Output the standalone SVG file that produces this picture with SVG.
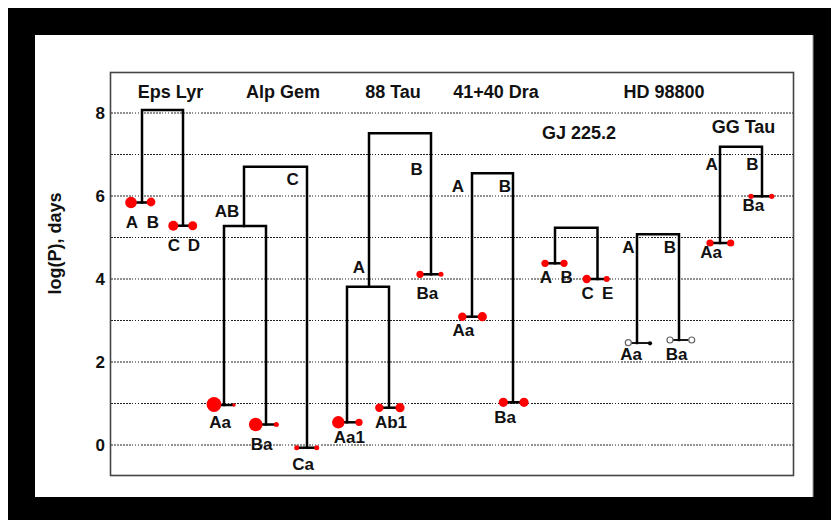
<svg xmlns="http://www.w3.org/2000/svg" width="831" height="520" viewBox="0 0 831 520">
<style>
text{font-family:"Liberation Sans",Arial,sans-serif;font-weight:bold;fill:#111;text-anchor:middle}
.t{font-size:18px}
.l{font-size:17px}
.tick{font-size:17px;text-anchor:end}
.grid{stroke:#222;stroke-width:1;fill:none;stroke-dasharray:2 1 2 1 2 1 2 1 2 1 2 1 2 1 1 2 1 2 1 2}
.br{stroke:#000;stroke-width:2.5;fill:none;stroke-linecap:square}
.bar{stroke:#000;stroke-width:2.5}
.thin{stroke:#000;stroke-width:1.8}
.s{fill:#ff0000}
.h{fill:#fff;stroke:#666;stroke-width:1.2}
</style>
<rect x="0" y="0" width="831" height="520" fill="#fff"/>
<rect x="8" y="8" width="823" height="512" fill="#000"/>
<rect x="35" y="35" width="778" height="462" fill="#fff"/>
<line x1="813" y1="35" x2="813" y2="497" stroke="#999" stroke-width="1"/>
<g id="plot-frame">
<rect x="110.5" y="72.5" width="683" height="403" fill="none" stroke="#444" stroke-width="1.6"/>
</g>
<g id="grid">
<line class="grid" x1="111" y1="445" x2="793" y2="445"/>
<line class="grid" x1="111" y1="403.5" x2="793" y2="403.5"/>
<line class="grid" x1="111" y1="362" x2="793" y2="362"/>
<line class="grid" x1="111" y1="320.5" x2="793" y2="320.5"/>
<line class="grid" x1="111" y1="279" x2="793" y2="279"/>
<line class="grid" x1="111" y1="237.5" x2="793" y2="237.5"/>
<line class="grid" x1="111" y1="196" x2="793" y2="196"/>
<line class="grid" x1="111" y1="154.5" x2="793" y2="154.5"/>
<line class="grid" x1="111" y1="113" x2="793" y2="113"/>
</g>
<g id="axis">
<text class="tick" x="105" y="119">8</text>
<text class="tick" x="105" y="202">6</text>
<text class="tick" x="105" y="285">4</text>
<text class="tick" x="105" y="368">2</text>
<text class="tick" x="105" y="451">0</text>
<text class="t" transform="translate(61,243.5) rotate(-90)">log(P), days</text>
</g>
<g id="titles">
<text class="t" x="170.5" y="98">Eps Lyr</text>
<text class="t" x="283" y="98">Alp Gem</text>
<text class="t" x="393" y="98">88 Tau</text>
<text class="t" x="496" y="98">41+40 Dra</text>
<text class="t" x="664" y="98">HD 98800</text>
<text class="t" x="579" y="139">GJ 225.2</text>
<text class="t" x="743.5" y="133">GG Tau</text>
</g>
<g id="connectors">
<path class="br" d="M142,202.5 V110 H183 V225.7"/>
<path class="br" d="M244,226 V166.7 H307 V447.7"/>
<path class="br" d="M224,405 V226 H266 V424.5"/>
<path class="br" d="M369,286.7 V133.3 H431 V274.3"/>
<path class="br" d="M347,422.3 V286.7 H389 V407.7"/>
<path class="br" d="M472,316.7 V173.3 H513 V402.3"/>
<path class="br" d="M555,263.3 V227.7 H597.5 V279"/>
<path class="br" d="M637,343 V234.3 H679 V340"/>
<path class="br" d="M720,243 V146.7 H762 V196.3"/>
</g>
<g id="epslyr-AB">
<line class="bar" x1="131" y1="202.5" x2="151" y2="202.5"/>
<circle class="s" cx="131" cy="202.5" r="5.8"/>
<circle class="s" cx="151" cy="202" r="4.4"/>
<text class="l" x="132" y="227.5">A</text>
<text class="l" x="153" y="227.5">B</text>
</g>
<g id="epslyr-CD">
<line class="bar" x1="173.3" y1="225.7" x2="192.7" y2="225.7"/>
<circle class="s" cx="173.3" cy="225.7" r="5"/>
<circle class="s" cx="192.7" cy="225.7" r="4.5"/>
<text class="l" x="174" y="251">C</text>
<text class="l" x="194" y="251">D</text>
</g>
<g id="alpgem-labels">
<text class="l" x="227" y="216.7">AB</text>
<text class="l" x="292.7" y="185">C</text>
</g>
<g id="alpgem-Aa">
<line class="bar" x1="214" y1="405" x2="234" y2="405"/>
<circle class="s" cx="214" cy="404.5" r="7.4"/>
<circle class="s" cx="234" cy="405" r="1.7"/>
<text class="l" x="220" y="428">Aa</text>
</g>
<g id="alpgem-Ba">
<line class="bar" x1="255.7" y1="424.5" x2="276.3" y2="424.5"/>
<circle class="s" cx="255.7" cy="424.5" r="6.8"/>
<circle class="s" cx="276.3" cy="424.5" r="2.5"/>
<text class="l" x="261.7" y="450">Ba</text>
</g>
<g id="alpgem-Ca">
<line class="bar" x1="296.7" y1="447.7" x2="316.7" y2="447.7"/>
<circle class="s" cx="296.7" cy="447.7" r="2.5"/>
<circle class="s" cx="316.7" cy="447.7" r="2.5"/>
<text class="l" x="303" y="470">Ca</text>
</g>
<g id="tau88-labels">
<text class="l" x="416.7" y="175">B</text>
<text class="l" x="359" y="272.5">A</text>
</g>
<g id="tau88-Ba">
<line class="bar" x1="420" y1="274.3" x2="441" y2="274.3"/>
<circle class="s" cx="420" cy="274.3" r="3.6"/>
<circle class="s" cx="441" cy="274.3" r="2.5"/>
<text class="l" x="427.3" y="299">Ba</text>
</g>
<g id="tau88-Aa1">
<line class="bar" x1="338.3" y1="422.3" x2="359" y2="422.3"/>
<circle class="s" cx="338.3" cy="422.3" r="6.2"/>
<circle class="s" cx="359" cy="422.3" r="3.6"/>
<text class="l" x="349.3" y="443">Aa1</text>
</g>
<g id="tau88-Ab1">
<line class="bar" x1="379.3" y1="407.7" x2="400" y2="407.7"/>
<circle class="s" cx="379.3" cy="407.7" r="4.2"/>
<circle class="s" cx="400" cy="407.7" r="4.6"/>
<text class="l" x="391" y="428">Ab1</text>
</g>
<g id="dra-labels">
<text class="l" x="458" y="191.5">A</text>
<text class="l" x="505" y="191.5">B</text>
</g>
<g id="dra-Aa">
<line class="bar" x1="462.3" y1="316.7" x2="482.3" y2="316.7"/>
<circle class="s" cx="462.3" cy="316.7" r="4.2"/>
<circle class="s" cx="482.3" cy="316.7" r="4.6"/>
<text class="l" x="463.3" y="336">Aa</text>
</g>
<g id="dra-Ba">
<line class="bar" x1="503.3" y1="402.3" x2="524" y2="402.3"/>
<circle class="s" cx="503.3" cy="402.3" r="4.6"/>
<circle class="s" cx="524" cy="402.3" r="4.6"/>
<text class="l" x="505" y="423">Ba</text>
</g>
<g id="gj-AB">
<line class="bar" x1="545" y1="263.3" x2="564" y2="263.3"/>
<circle class="s" cx="545" cy="263.3" r="3.6"/>
<circle class="s" cx="564" cy="263.3" r="3.6"/>
<text class="l" x="546" y="283.3">A</text>
<text class="l" x="566.7" y="283.3">B</text>
</g>
<g id="gj-CE">
<line class="bar" x1="586.7" y1="279" x2="606.7" y2="279"/>
<circle class="s" cx="586.7" cy="279" r="4.2"/>
<circle class="s" cx="606.7" cy="279" r="3"/>
<text class="l" x="587.7" y="299.3">C</text>
<text class="l" x="607.7" y="299.3">E</text>
</g>
<g id="hd-labels">
<text class="l" x="628.3" y="253">A</text>
<text class="l" x="670" y="253">B</text>
</g>
<g id="hd-Aa">
<line class="thin" x1="631" y1="343" x2="650" y2="343"/>
<circle class="h" cx="628.3" cy="342.7" r="3"/>
<circle fill="#000" cx="650" cy="343.3" r="2.1"/>
<text class="l" x="631" y="360">Aa</text>
</g>
<g id="hd-Ba">
<line class="thin" x1="673" y1="340" x2="688.7" y2="340"/>
<circle class="h" cx="670" cy="340" r="3"/>
<circle class="h" cx="691.7" cy="340" r="3"/>
<text class="l" x="676.7" y="360">Ba</text>
</g>
<g id="ggtau-labels">
<text class="l" x="711.7" y="170">A</text>
<text class="l" x="752.3" y="170">B</text>
</g>
<g id="ggtau-Ba">
<line class="bar" x1="751" y1="196.3" x2="771.7" y2="196.3"/>
<circle class="s" cx="751" cy="196.3" r="2.6"/>
<circle class="s" cx="771.7" cy="196.3" r="2.6"/>
<text class="l" x="753.3" y="211">Ba</text>
</g>
<g id="ggtau-Aa">
<line class="bar" x1="710" y1="243" x2="730.7" y2="243"/>
<circle class="s" cx="710" cy="243" r="3.6"/>
<circle class="s" cx="730.7" cy="243" r="3.6"/>
<text class="l" x="711" y="258.3">Aa</text>
</g>
</svg>
